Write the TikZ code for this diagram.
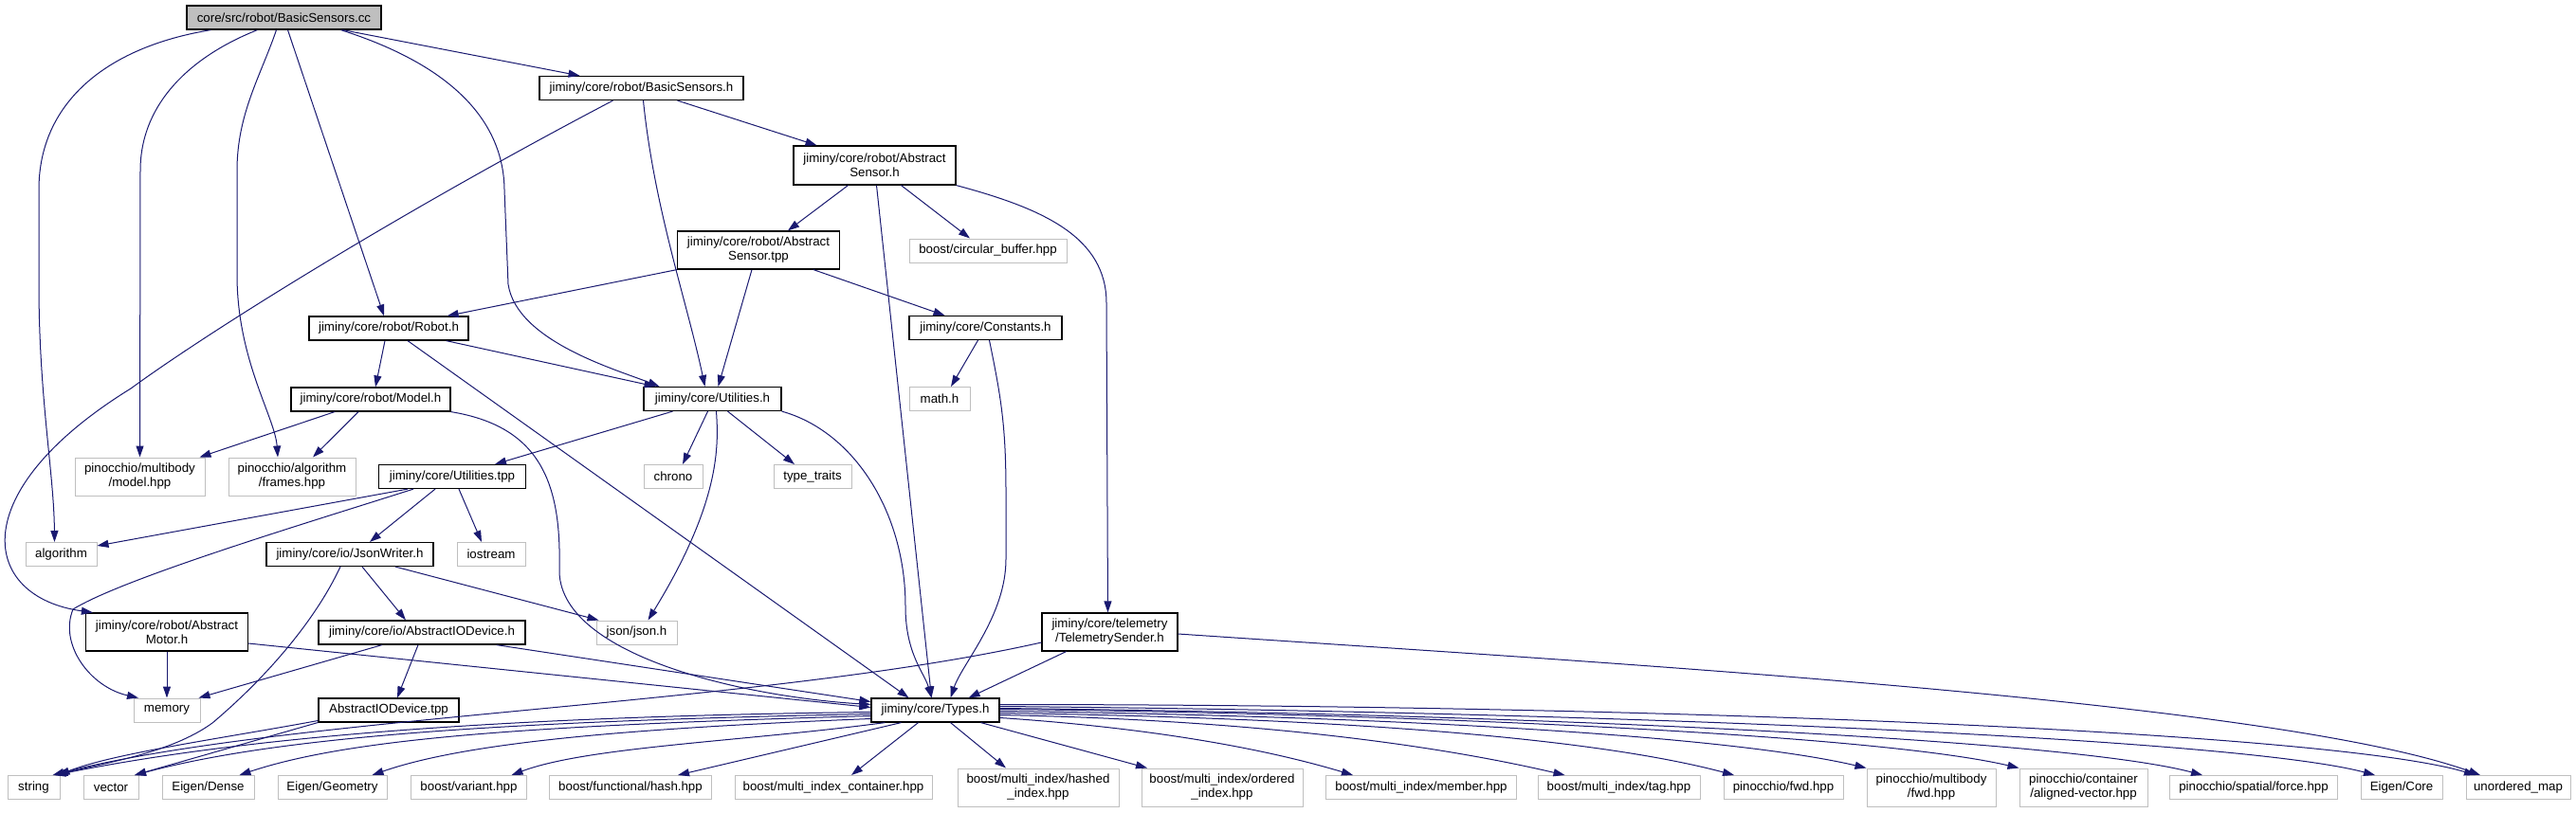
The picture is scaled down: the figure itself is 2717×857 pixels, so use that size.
\documentclass[tikz,border=0pt]{standalone}
\usepackage{fontspec}
\setmainfont{Liberation Sans}
\usetikzlibrary{arrows.meta}
\definecolor{dxEdge}{RGB}{25,25,112}
\definecolor{dxGray}{RGB}{191,191,191}

\begin{document}
\begin{tikzpicture}[x=1pt, y=-1pt,
    hdr/.style={draw=black, line width=1.2pt, fill=white, inner sep=0pt, minimum height=25, align=center, font=\fontsize{13.3}{15}\selectfont},
    sys/.style={hdr, draw=dxGray, line width=1pt},
    srcfile/.style={hdr, fill=dxGray},
    incl/.style={draw=dxEdge, line width=1pt, -{Triangle[length=12pt, width=8pt]}}]
      \path[use as bounding box, fill=white] (0,0) rectangle (2717,857);

      \node[srcfile, minimum width=205] (cc) at (299.5,18.5) {core/src/robot/BasicSensors.cc};
      \node[hdr, minimum width=215] (bsh) at (676.5,93) {jiminy/core/robot/BasicSensors.h};
      \node[hdr, minimum width=171, minimum height=41] (ash) at (922.5,174.5) {jiminy/core/robot/Abstract\\Sensor.h};
      \node[hdr, minimum width=171, minimum height=40] (astpp) at (800,264) {jiminy/core/robot/Abstract\\Sensor.tpp};
      \node[sys, minimum width=166] (circbuf) at (1042,264.5) {boost/circular\_buffer.hpp};
      \node[hdr, minimum width=161] (consts) at (1039.5,346) {jiminy/core/Constants.h};
      \node[sys, minimum width=64] (mathh) at (991,421) {math.h};
      \node[hdr, minimum width=168] (robot) at (410,346.5) {jiminy/core/robot/Robot.h};
      \node[hdr, minimum width=168] (model) at (391,421.5) {jiminy/core/robot/Model.h};
      \node[hdr, minimum width=145] (utils) at (751.5,421) {jiminy/core/Utilities.h};
      \node[sys, minimum width=137, minimum height=40] (mbmodel) at (147.5,503) {pinocchio/multibody\\/model.hpp};
      \node[sys, minimum width=134, minimum height=40] (frames) at (308,503) {pinocchio/algorithm\\/frames.hpp};
      \node[hdr, minimum width=155] (utilstpp) at (477,503) {jiminy/core/Utilities.tpp};
      \node[sys, minimum width=62] (chrono) at (710,503) {chrono};
      \node[sys, minimum width=82] (typetraits) at (857,503) {type\_traits};
      \node[sys, minimum width=75] (algo) at (64.5,585) {algorithm};
      \node[hdr, minimum width=176] (jsonwr) at (369,585) {jiminy/core/io/JsonWriter.h};
      \node[sys, minimum width=72] (iostream) at (518,585) {iostream};
      \node[hdr, minimum width=171, minimum height=40] (amotor) at (176,667) {jiminy/core/robot/Abstract\\Motor.h};
      \node[hdr, minimum width=218] (iodev) at (445,667.5) {jiminy/core/io/AbstractIODevice.h};
      \node[sys, minimum width=85] (jsonh) at (671.5,667.5) {json/json.h};
      \node[hdr, minimum width=143, minimum height=40] (telem) at (1170.5,667) {jiminy/core/telemetry\\/TelemetrySender.h};
      \node[sys, minimum width=70] (memory) at (176,749.5) {memory};
      \node[hdr, minimum width=148] (iodevtpp) at (410,749.5) {AbstractIODevice.tpp};
      \node[hdr, minimum width=135] (types) at (986.5,749.5) {jiminy/core/Types.h};

      \node[sys, minimum width=55] (string) at (35.5,831) {string};
      \node[sys, minimum width=58] (vector) at (117,831) {vector};
      \node[sys, minimum width=97] (eigdense) at (219.5,831) {Eigen/Dense};
      \node[sys, minimum width=115] (eiggeom) at (350.5,831) {Eigen/Geometry};
      \node[sys, minimum width=122] (variant) at (494.5,831) {boost/variant.hpp};
      \node[sys, minimum width=171] (fhash) at (665,831) {boost/functional/hash.hpp};
      \node[sys, minimum width=208] (mic) at (879,831) {boost/multi\_index\_container.hpp};
      \node[sys, minimum width=170, minimum height=40] (hashed) at (1095,831) {boost/multi\_index/hashed\\\_index.hpp};
      \node[sys, minimum width=170, minimum height=40] (ordered) at (1289,831) {boost/multi\_index/ordered\\\_index.hpp};
      \node[sys, minimum width=201] (member) at (1499,831) {boost/multi\_index/member.hpp};
      \node[sys, minimum width=171] (tag) at (1707.5,831) {boost/multi\_index/tag.hpp};
      \node[sys, minimum width=126] (pfwd) at (1881,831) {pinocchio/fwd.hpp};
      \node[sys, minimum width=136, minimum height=40] (mbfwd) at (2037,831) {pinocchio/multibody\\/fwd.hpp};
      \node[sys, minimum width=135, minimum height=40] (alvec) at (2197.5,831) {pinocchio/container\\/aligned-vector.hpp};
      \node[sys, minimum width=177] (force) at (2377,831) {pinocchio/spatial/force.hpp};
      \node[sys, minimum width=86] (eigcore) at (2533,831) {Eigen/Core};
      \node[sys, minimum width=110] (umap) at (2656,831) {unordered\_map};

      % includes of the source file
      \draw[incl] ([xshift=62]cc.south) -- ([xshift=-65]bsh.north);
      \draw[incl] ([xshift=4]cc.south) -- ([xshift=-5]robot.north);
      \draw[incl] ([xshift=60]cc.south) .. controls (480,70) and (531,130) .. (532,200) -- (536,300) .. controls (545,360) and (650,390) .. ([xshift=-56]utils.north);
      \draw[incl] ([xshift=-28]cc.south) .. controls (200,60) and (148,110) .. (148,180) -- (mbmodel.north);
      \draw[incl] ([xshift=-8]cc.south) .. controls (275,80) and (250,120) .. (250,180) -- (250,290) .. controls (250,380) and (290,440) .. ([xshift=-15]frames.north);
      \draw[incl] ([xshift=-77]cc.south) .. controls (110,50) and (41,110) .. (41,200) -- (41,300) .. controls (41,420) and (57,500) .. ([xshift=-7]algo.north);

      \draw[incl] ([xshift=38]bsh.south) -- ([xshift=-61]ash.north);
      \draw[incl] ([xshift=2]bsh.south) .. controls (690,220) and (725,320) .. ([xshift=-8]utils.north);
      \draw[incl] ([xshift=-30]bsh.south) .. controls (420,225) and (220,350) .. (138,410) .. controls (-40,520) and (-20,630) .. ([xshift=8]amotor.north west);

      \draw[incl] ([xshift=-28]ash.south) -- ([xshift=31]astpp.north);
      \draw[incl] ([xshift=28]ash.south) -- ([xshift=-19]circbuf.north);
      \draw[incl] ([xshift=2]ash.south) -- ([xshift=-4]types.north);
      \draw[incl] (ash.south east) .. controls (1100,220) and (1167,250) .. (1167,320) -- ([xshift=-2]telem.north);

      \draw[incl] (astpp.south west) -- ([xshift=-23]robot.north east);
      \draw[incl] ([xshift=-7]astpp.south) -- ([xshift=6]utils.north);
      \draw[incl] ([xshift=58]astpp.south) -- ([xshift=-43]consts.north);

      \draw[incl] ([xshift=-8]consts.south) -- ([xshift=12]mathh.north);
      \draw[incl] ([xshift=4]consts.south) .. controls (1056,420) and (1061,450) .. (1061,520) -- (1061,590) .. controls (1061,650) and (1015,700) .. ([xshift=16]types.north);

      \draw[incl] ([xshift=-4]robot.south) -- ([xshift=5]model.north);
      \draw[incl] ([xshift=-24]robot.south east) -- ([xshift=-60]utils.north);
      \draw[incl] ([xshift=20]robot.south) -- ([xshift=-28]types.north);

      \draw[incl] ([xshift=-38]model.south) -- ([xshift=-6]mbmodel.north east);
      \draw[incl] ([xshift=-13]model.south) -- ([xshift=22]frames.north);
      \draw[incl] (model.south east) .. controls (570,450) and (592,510) .. (590,600) .. controls (587,690) and (780,735) .. ([yshift=6]types.west);

      \draw[incl] ([xshift=-42]utils.south) -- ([xshift=45]utilstpp.north);
      \draw[incl] ([xshift=-5]utils.south) -- ([xshift=10]chrono.north);
      \draw[incl] ([xshift=16]utils.south) -- ([xshift=-19]typetraits.north);
      \draw[incl] ([xshift=4]utils.south) .. controls (758,470) and (760,530) .. ([xshift=12]jsonh.north);
      \draw[incl] (utils.south east) .. controls (900,455) and (955,540) .. (955,640) .. controls (955,690) and (975,710) .. ([xshift=-4]types.north);

      \draw[incl] ([xshift=-47]utilstpp.south) -- ([yshift=9]algo.east);
      \draw[incl] ([xshift=-41]utilstpp.south) .. controls (330,550) and (130,610) .. (77,643) .. controls (62,680) and (95,725) .. ([xshift=-30]memory.north);
      \draw[incl] ([xshift=-18]utilstpp.south) -- ([xshift=21]jsonwr.north);
      \draw[incl] ([xshift=7]utilstpp.south) -- ([xshift=-10]iostream.north);

      \draw[incl] ([xshift=13]jsonwr.south) -- ([xshift=-17]iodev.north);
      \draw[incl] ([xshift=48]jsonwr.south) -- ([xshift=-40]jsonh.north);
      \draw[incl] ([xshift=-10]jsonwr.south) .. controls (330,660) and (275,720) .. (224,763) .. controls (180,795) and (110,805) .. ([xshift=24]string.north);

      \draw[incl] (amotor) -- (memory);
      \draw[incl] ([yshift=-12]amotor.east) -- ([yshift=3]types.west);

      \draw[incl] ([xshift=-42]iodev.south) -- ([xshift=-2]memory.north east);
      \draw[incl] ([xshift=-4]iodev.south) -- ([xshift=9]iodevtpp.north);
      \draw[incl] ([xshift=-31]iodev.south east) -- ([yshift=9]types.west);

      \draw[incl] ([yshift=-11]iodevtpp.west) .. controls (230,780) and (120,795) .. ([xshift=26]string.north);
      \draw[incl] ([yshift=-13]iodevtpp.west) -- ([xshift=25]vector.north);

      \draw[incl] ([xshift=-46]telem.south) -- ([xshift=-33]types.north east);
      \draw[incl] ([yshift=-11]telem.west) .. controls (800,745) and (300,755) .. ([xshift=20]string.north);
      \draw[incl] ([yshift=-2]telem.east) .. controls (1700,700) and (2400,740) .. ([xshift=-40]umap.north);

      % includes of Types.h
      \draw[incl] ([yshift=-2]types.west) .. controls +(-400,5) and +(200,-40) .. ([xshift=22]string.north);
      \draw[incl] ([yshift=-4]types.west) .. controls +(-400,8) and +(150,-40) .. ([xshift=25]vector.north);
      \draw[incl] ([yshift=-6]types.west) .. controls +(-350,10) and +(120,-40) .. ([xshift=33]eigdense.north);
      \draw[incl] ([yshift=-9]types.west) .. controls +(-250,10) and +(100,-35) .. ([xshift=42]eiggeom.north);
      \draw[incl] ([xshift=15]types.south west) .. controls +(-150,20) and +(80,-30) .. ([xshift=45]variant.north);
      \draw[incl] ([xshift=-36]types.south) -- ([xshift=50]fhash.north);
      \draw[incl] ([xshift=-18]types.south) -- ([xshift=19]mic.north);
      \draw[incl] ([xshift=16]types.south) -- ([xshift=-34]hashed.north);
      \draw[incl] ([xshift=48]types.south) -- ([xshift=-79]ordered.north);
      \draw[incl] ([yshift=-8]types.east) .. controls +(150,10) and +(-100,-30) .. ([xshift=-72]member.north);
      \draw[incl] ([yshift=-5]types.east) .. controls +(250,5) and +(-150,-35) .. ([xshift=-57]tag.north);
      \draw[incl] ([yshift=-3]types.east) .. controls +(350,5) and +(-150,-40) .. ([xshift=-52]pfwd.north);
      \draw[incl] ([yshift=-1]types.east) .. controls +(400,5) and +(-150,-35) .. (mbfwd.north west);
      \draw[incl] ([yshift=1]types.east) .. controls +(450,5) and +(-150,-35) .. (alvec.north west);
      \draw[incl] ([yshift=2]types.east) .. controls +(500,5) and +(-150,-40) .. ([xshift=-54]force.north);
      \draw[incl] ([yshift=4]types.east) .. controls +(600,5) and +(-150,-40) .. ([xshift=-28]eigcore.north);
      \draw[incl] ([yshift=6]types.east) .. controls +(700,0) and +(-150,-45) .. ([xshift=-45]umap.north);
    \end{tikzpicture}
\end{document}
